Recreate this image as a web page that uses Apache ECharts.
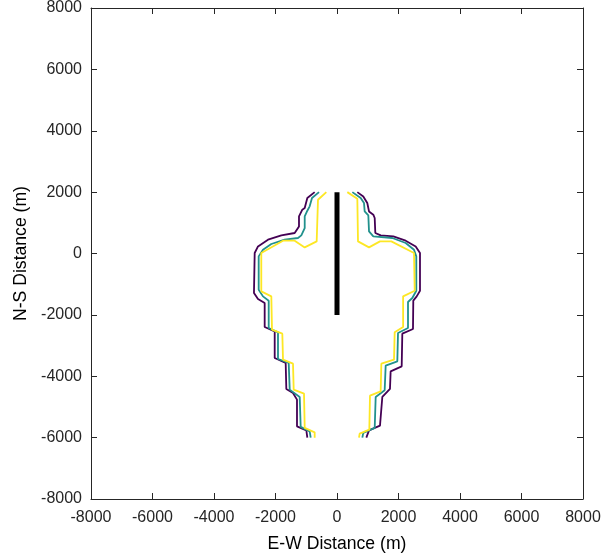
<!DOCTYPE html>
<html>
<head>
<meta charset="utf-8">
<script src="https://cdn.jsdelivr.net/npm/echarts@6/dist/echarts.min.js"></script>
<style>
html,body{margin:0;padding:0;background:#fff;overflow:hidden;}
#chart{width:613px;height:556px;}
</style>
</head>
<body>
<div id="chart"></div>
<script>
// Axis ticks
var xTicks = [-8000,-6000,-4000,-2000,0,2000,4000,6000,8000];
var yTicks = [-8000,-6000,-4000,-2000,0,2000,4000,6000,8000];

// Well / fault trace
var wellLine = [[0,2000],[0,-2000]];

// Contour lines (x, y in metres)
var purpleLeft = [[-726,2000],[-965,1808],[-1050,1482],[-1128,1427],[-1236,1208],[-1236,883],[-1376,668],[-1810,590],[-2244,450],[-2569,231],[-2677,16],[-2700,-1287],[-2569,-1482],[-2352,-1612],[-2352,-2394],[-2026,-2537],[-2026,-3404],[-1669,-3567],[-1648,-4414],[-1431,-4544],[-1301,-4762],[-1301,-5632],[-997,-5762],[-965,-6000]];
var tealLeft = [[-585,2000],[-813,1808],[-889,1536],[-965,1394],[-1050,1208],[-1050,830],[-1160,590],[-1268,505],[-1701,450],[-2136,309],[-2407,124],[-2547,-94],[-2547,-1179],[-2407,-1397],[-2221,-1537],[-2221,-2427],[-1919,-2570],[-1919,-3437],[-1571,-3567],[-1538,-4436],[-1213,-4674],[-1181,-5651],[-889,-5795],[-856,-6000]];
var yellowLeft = [[-347,2000],[-618,1752],[-661,394],[-1050,199],[-1376,417],[-1756,417],[-2462,16],[-2462,-1234],[-2136,-1397],[-2114,-2482],[-1778,-2612],[-1756,-3459],[-1431,-3590],[-1408,-4436],[-1073,-4566],[-1050,-5684],[-726,-5827],[-726,-6000]];
var purpleRight = [[661,2000],[855,1860],[985,1645],[1041,1371],[1181,1264],[1226,1156],[1246,668],[1421,590],[1831,557],[2234,417],[2559,231],[2699,16],[2699,-1212],[2592,-1397],[2481,-1537],[2471,-2460],[2124,-2612],[2104,-3676],[1745,-3839],[1723,-4414],[1474,-4676],[1398,-5608],[1041,-5762],[954,-6000]];
var tealRight = [[499,2000],[770,1808],[878,1645],[900,1371],[1019,1241],[1041,720],[1181,557],[1799,505],[2234,342],[2504,124],[2579,-94],[2579,-1212],[2449,-1450],[2309,-1580],[2309,-2427],[1984,-2590],[1962,-3514],[1583,-3654],[1550,-4459],[1258,-4676],[1226,-5684],[855,-5847],[824,-6000]];
var yellowRight = [[336,2000],[661,1785],[683,394],[1041,199],[1398,394],[1767,394],[2504,16],[2527,-1212],[2150,-1397],[2150,-2394],[1876,-2570],[1854,-3459],[1442,-3590],[1420,-4492],[1073,-4632],[1051,-5739],[737,-5869],[716,-6000]];

var colors = {purple:'#440154', teal:'#21918c', yellow:'#fde725'};
var axisColor = '#262626';
var font = "'Liberation Sans', Arial, Helvetica, sans-serif";

function axisBase(pos, showLabel, ticks) {
  return {
    type: 'value', position: pos,
    min: ticks[0], max: ticks[ticks.length - 1], interval: ticks[1] - ticks[0],
    axisLine: {show: true, onZero: false, lineStyle: {color: axisColor, width: 1}},
    axisTick: {show: true, inside: true, length: 6, lineStyle: {color: axisColor}},
    axisLabel: {show: showLabel, color: axisColor, fontSize: 16, fontFamily: font,
      formatter: function (v) { return String(v); }},
    splitLine: {show: false}
  };
}

var xBottom = axisBase('bottom', true, xTicks);
xBottom.name = 'E-W Distance (m)';
xBottom.nameLocation = 'middle';
xBottom.nameGap = 36;
xBottom.nameTextStyle = {color: '#000', fontSize: 17.6, fontFamily: font};
xBottom.axisLabel.margin = 11;
var xTop = axisBase('top', false, xTicks);

var yLeft = axisBase('left', true, yTicks);
yLeft.name = 'N-S Distance (m)';
yLeft.nameLocation = 'middle';
yLeft.nameGap = 57;
yLeft.nameRotate = 90;
yLeft.nameTextStyle = {color: '#000', fontSize: 17.6, fontFamily: font};
yLeft.axisLabel.margin = 9;
var yRight = axisBase('right', false, yTicks);

function lineSeries(data, color, width) {
  return {
    type: 'line', data: data, xAxisIndex: 0, yAxisIndex: 0,
    showSymbol: false, symbol: 'none',
    lineStyle: {color: color, width: width},
    itemStyle: {color: color},
    silent: true, z: 2
  };
}

var chart = echarts.init(document.getElementById('chart'), null, {renderer: 'canvas'});
chart.setOption({
  animation: false,
  backgroundColor: '#fff',
  grid: {left: 91, right: 30, top: 8, bottom: 57, containLabel: false, outerBoundsMode: 'none'},
  xAxis: [xBottom, xTop],
  yAxis: [yLeft, yRight],
  series: [
    lineSeries(purpleLeft, colors.purple, 1.8),
    lineSeries(purpleRight, colors.purple, 1.8),
    lineSeries(tealLeft, colors.teal, 1.8),
    lineSeries(tealRight, colors.teal, 1.8),
    lineSeries(yellowLeft, colors.yellow, 1.8),
    lineSeries(yellowRight, colors.yellow, 1.8),
    lineSeries(wellLine, '#000', 5)
  ]
});
</script>
</body>
</html>
